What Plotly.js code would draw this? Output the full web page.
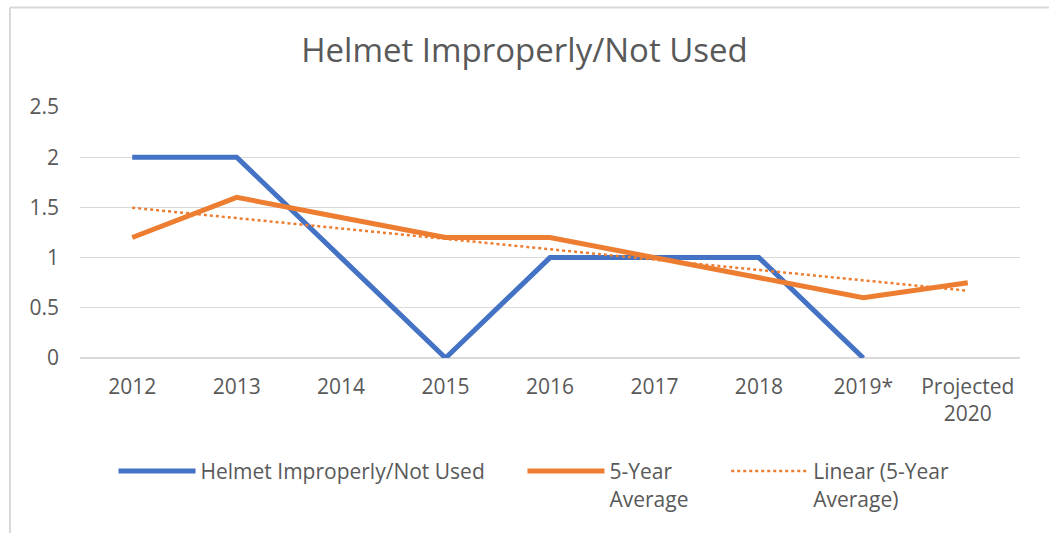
<!DOCTYPE html>
<html>
<head>
<meta charset="utf-8">
<script src="https://cdn.plot.ly/plotly-3.0.1.min.js"></script>
<style>html,body{margin:0;padding:0;background:#fff;}#chart{width:1049px;height:533px;}</style>
</head>
<body>
<div id="chart"></div>
<script>
var categories = ["2012", "2013", "2014", "2015", "2016", "2017", "2018", "2019*", "Projected<br>2020"];
var helmetValues = [2, 2, 1, 0, 1, 1, 1, 0, null];
var fiveYearAverage = [1.2, 1.6, 1.4, 1.2, 1.2, 1.0, 0.8, 0.6, 0.75];
var seriesNames = ["Helmet Improperly/Not Used", "5-Year<br>Average", "Linear (5-Year<br>Average)"];

// Linear trendline (least squares) of the 5-year average, as Excel computes it
function linearFit(ys) {
  var n = ys.length, sx = 0, sy = 0, sxx = 0, sxy = 0;
  for (var i = 0; i < n; i++) { var x = i + 1; sx += x; sy += ys[i]; sxx += x * x; sxy += x * ys[i]; }
  var slope = (n * sxy - sx * sy) / (n * sxx - sx * sx);
  var icpt = (sy - slope * sx) / n;
  return ys.map(function (_, i) { return icpt + slope * (i + 1); });
}
var trend = linearFit(fiveYearAverage);

var font = "Open Sans, Noto Sans, sans-serif";
var textColor = "#595959";
var pad = "\u00a0\u00a0\u00a0\u00a0\u00a0\u00a0";  // spacing after legend entries

var traces = [
  {x: categories, y: helmetValues, name: seriesNames[0] + pad, type: "scatter", mode: "lines",
   line: {color: "#4472C4", width: 5}, connectgaps: false},
  {x: categories, y: fiveYearAverage, name: seriesNames[1] + pad, type: "scatter", mode: "lines",
   line: {color: "#ED7D31", width: 5}},
  {x: categories, y: trend, name: seriesNames[2], type: "scatter", mode: "lines",
   line: {color: "#ED7D31", width: 2.5, dash: "dot"}}
];

var layout = {
  width: 1049, height: 533,
  margin: {l: 80, r: 29, t: 107, b: 175},
  paper_bgcolor: "#fff", plot_bgcolor: "#fff",
  font: {family: font, color: textColor, size: 21},
  title: {text: "Helmet Improperly/Not Used", font: {family: font, size: 33, color: textColor},
          x: 0.5, xanchor: "center", y: 0.905, yanchor: "middle"},
  xaxis: {type: "category", range: [-0.5, 8.5], showgrid: false, zeroline: false, showline: false,
          ticks: "", tickfont: {size: 21, color: textColor}, ticklabelstandoff: 14, fixedrange: true},
  yaxis: {range: [0, 2.5], dtick: 0.5, tick0: 0, showgrid: true, gridcolor: "#D9D9D9", gridwidth: 1.3,
          zeroline: true, zerolinecolor: "#D9D9D9", zerolinewidth: 1.3, showline: false, ticks: "",
          tickfont: {size: 21, color: textColor}, ticklabelstandoff: 20, fixedrange: true},
  legend: {orientation: "h", x: 0.483, xanchor: "center", y: -0.37, yanchor: "top",
           font: {size: 21, color: textColor}, traceorder: "normal", valign: "top", itemwidth: 77},
  showlegend: true,
  shapes: [
    {type: "line", xref: "paper", yref: "paper", x0: -0.0745, x1: 1.04, y0: 1.396, y1: 1.396,
     line: {color: "#D9D9D9", width: 2}},
    {type: "line", xref: "paper", yref: "paper", x0: -0.0745, x1: -0.0745, y0: 1.396, y1: -0.72,
     line: {color: "#D9D9D9", width: 2}}
  ]
};

Plotly.newPlot("chart", traces, layout, {displayModeBar: false, staticPlot: true});
</script>
</body>
</html>
